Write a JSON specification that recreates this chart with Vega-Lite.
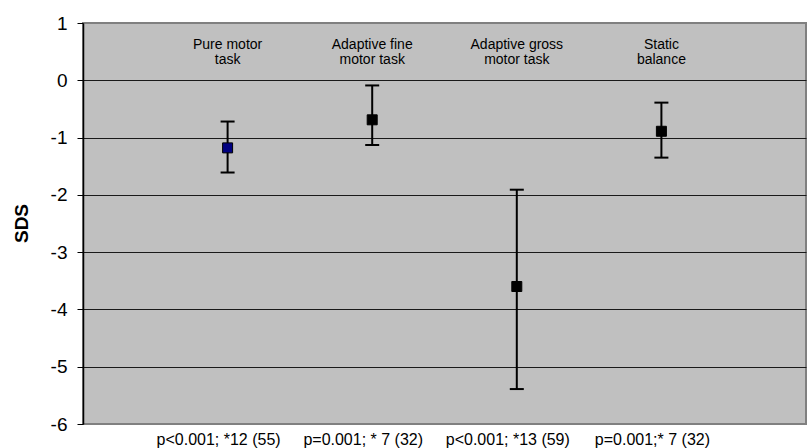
{
  "$schema": "https://vega.github.io/schema/vega-lite/v6.json",
  "width": 723,
  "height": 401,
  "autosize": "none",
  "padding": {"left": 83, "top": 23, "right": 2, "bottom": 24},
  "background": "white",
  "config": {
    "view": {"fill": "#C0C0C0", "stroke": "#808080", "strokeWidth": 2},
    "font": "Liberation Sans"
  },
  "data": {
    "values": [
      {"task": "Pure motor\ntask", "sds": -1.18, "lower": -1.61, "upper": -0.72, "note": "p<0.001; *12 (55)"},
      {"task": "Adaptive fine\nmotor task", "sds": -0.69, "lower": -1.13, "upper": -0.09, "note": "p=0.001; * 7 (32)"},
      {"task": "Adaptive gross\nmotor task", "sds": -3.6, "lower": -5.39, "upper": -1.91, "note": "p<0.001; *13 (59)"},
      {"task": "Static\nbalance", "sds": -0.89, "lower": -1.35, "upper": -0.39, "note": "p=0.001;* 7 (32)"}
    ]
  },
  "encoding": {
    "x": {"field": "task", "type": "nominal", "sort": null, "scale": {"type": "point", "padding": 1}, "axis": null}
  },
  "layer": [
    {
      "mark": {"type": "rule", "strokeWidth": 2, "color": "black"},
      "encoding": {
        "y": {
          "field": "lower", "type": "quantitative",
          "scale": {"domain": [-6, 1], "nice": false, "zero": false},
          "axis": {
            "title": "SDS",
            "titleFontSize": 19,
            "titleFontWeight": "bold",
            "titleColor": "black",
            "titleX": -62,
            "titleY": 200,
            "titleAngle": 270,
            "titleAlign": "center",
            "titleBaseline": "middle",
            "values": [-6, -5, -4, -3, -2, -1, 0, 1],
            "labelExpr": "datum.value < 0 ? '-' + abs(datum.value) : '' + datum.value",
            "labelFontSize": 19,
            "labelColor": "black",
            "labelPadding": 10,
            "tickSize": 6,
            "tickColor": "black",
            "domainColor": "black",
            "domainWidth": 1.5,
            "gridColor": {"condition": {"test": "datum.value == 1 || datum.value == -6", "value": "#808080"}, "value": "#1a1a1a"},
            "gridWidth": 1,
            "gridOpacity": 1
          }
        },
        "y2": {"field": "upper"}
      }
    },
    {
      "mark": {"type": "tick", "orient": "horizontal", "size": 14, "thickness": 2, "color": "black", "opacity": 1},
      "encoding": {"y": {"field": "lower", "type": "quantitative"}}
    },
    {
      "mark": {"type": "tick", "orient": "horizontal", "size": 14, "thickness": 2, "color": "black", "opacity": 1},
      "encoding": {"y": {"field": "upper", "type": "quantitative"}}
    },
    {
      "mark": {"type": "point", "shape": "square", "size": 100, "filled": true, "stroke": "black", "strokeWidth": 1, "opacity": 1},
      "encoding": {
        "y": {"field": "sds", "type": "quantitative"},
        "fill": {"condition": {"test": "indexof(datum.task, 'Pure') === 0", "value": "#000080"}, "value": "black"}
      }
    },
    {
      "mark": {"type": "text", "lineBreak": "\n", "fontSize": 14, "dy": 26, "baseline": "alphabetic", "lineHeight": 15, "color": "black"},
      "encoding": {"y": {"datum": 1}, "text": {"field": "task"}}
    },
    {
      "mark": {"type": "text", "fontSize": 16, "dy": 21, "dx": -9, "baseline": "alphabetic", "color": "black"},
      "encoding": {"y": {"datum": -6}, "text": {"field": "note"}}
    }
  ]
}
